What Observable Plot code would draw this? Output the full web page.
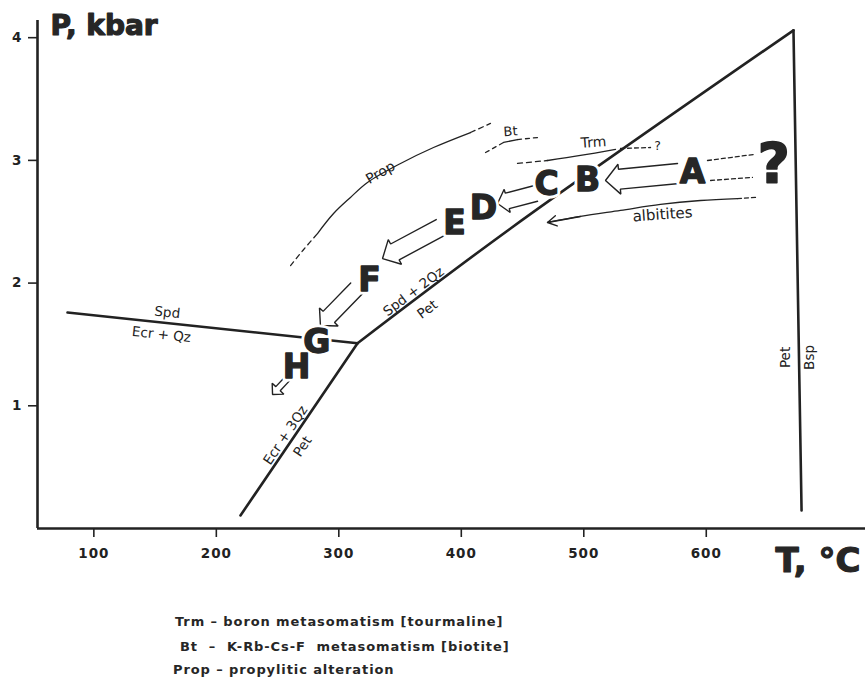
<!DOCTYPE html>
<html>
<head>
<meta charset="utf-8">
<script src="https://cdn.jsdelivr.net/npm/d3@7"></script>
<script src="https://cdn.jsdelivr.net/npm/@observablehq/plot@0.6"></script>
<style>
  html, body { margin: 0; padding: 0; background: #fff; }
  #wrap { position: relative; width: 865px; height: 681px; }
  #chart svg { display: block; }
  .note { position: absolute; font-family: "DejaVu Sans", sans-serif; font-weight: bold; font-size: 13px;
          letter-spacing: 0.9px; line-height: 16px; color: #262626; white-space: pre; }
</style>
</head>
<body>
<div id="wrap">
  <div id="chart"></div>
</div>
<script>
// ---------------- data ----------------
const tempTicks = [100, 200, 300, 400, 500, 600];
const pressTicks = [1, 2, 3, 4];

// phase boundaries [T °C, P kbar]
const lineSpdEcrQz  = [[78.5, 1.76], [315.3, 1.51]];
const lineEcr3QzPet = [[315.3, 1.51], [219.7, 0.106]];
const lineSpd2QzPet = [[315.3, 1.51], [440.2, 2.445], [671.2, 4.06]];
const linePetBsp    = [[671.2, 4.06], [677.8, 0.147]];

// alteration curves
const propDashLow  = [[260.6, 2.143], [271.0, 2.27], [282.6, 2.404]];
const propSolid    = [[282.6, 2.404], [295.7, 2.567], [309.5, 2.698], [323.4, 2.820], [350.4, 2.975], [377.3, 3.105], [407.5, 3.227]];
const propDashHigh = [[407.5, 3.227], [423.8, 3.301]];
const btDashLow    = [[419.8, 3.064], [434.5, 3.146]];
const btSolid      = [[434.5, 3.146], [445.9, 3.170]];
const btDashHigh   = [[445.9, 3.170], [463.0, 3.187]];
const trmDashLow   = [[445.9, 2.975], [470.4, 2.999]];
const trmSolid     = [[470.4, 2.999], [497.3, 3.040], [525.9, 3.089]];
const trmDashHigh  = [[530.0, 3.097], [554.5, 3.105]];
const albSolid     = [[470.4, 2.494], [497.3, 2.543], [530.0, 2.592], [562.6, 2.641], [595.3, 2.673], [625.5, 2.689]];
const albDash      = [[625.5, 2.689], [640.2, 2.698]];
const aToSourceUpper = [[601.0, 2.999], [638.6, 3.048]];
const aToSourceLower = [[603.5, 2.836], [637.7, 2.861]];

// stages
const stageLetters = ["A", "B", "C", "D", "E", "F", "G", "H"];
const stageT = [588.8, 503.0, 469.6, 418.0, 394.5, 325.0, 282.0, 265.5];
const stageP = [2.90, 2.84, 2.80, 2.61, 2.49, 2.02, 1.52, 1.31];
const sourceLabel = ["?"];
const sourceT = [655];
const sourceP = [2.97];

// hollow evolution arrows: tail -> tip
const arrowNames = ["AB", "CD", "EF", "FG", "H"];
const arrowTailT = [577.3, 460.6, 383.0, 314.4, 258.1];
const arrowTailP = [2.893, 2.730, 2.453, 1.956, 1.222];
const arrowTipT  = [517.7, 429.6, 335.7, 285.0, 245.9];
const arrowTipP  = [2.836, 2.649, 2.200, 1.654, 1.092];

// labels on boundaries
const boundaryLabels = ["Spd", "Ecr + Qz", "Spd + 2Qz", "Pet", "Ecr + 3Qz", "Pet", "Pet", "Bsp"];
const boundaryLabelT = [160.0, 155.2, 361.0, 372.4, 256.5, 270.4, 664.7, 684.3];
const boundaryLabelP = [1.76, 1.58, 1.93, 1.785, 0.76, 0.668, 1.394, 1.394];

const curveLabels = ["Prop", "Bt", "Trm", "?", "albitites"];
const curveLabelT = [334.0, 440.2, 508.0, 560.2, 564.3];
const curveLabelP = [2.90, 3.235, 3.146, 3.12, 2.559];

const notes = ["Trm – boron metasomatism [tourmaline]", "Bt  –  K-Rb-Cs-F  metasomatism [biotite]", "Prop – propylitic alteration"];

// ---------------- layout / styles ----------------
const W = 865, H = 600;
const xDomain = [54, 730], yDomain = [0, 4.14];
const mL = 37, mR = 0, mT = 20, mB = 72;
const kx = (W - mL - mR) / (xDomain[1] - xDomain[0]);
const ky = (H - mT - mB) / (yDomain[1] - yDomain[0]);
const ink = "#222";

const boundaryRotate = [6, 6, -37, -37, -56, -56, -90, -90];
const curveRotate = [-30, -4, -4, 0, -4];
const curveSize = [14, 13, 14, 12.5, 15];
// [shaft half-width, head half-width, head length] in px
const arrowShape = {AB: [10, 15, 14], CD: [8, 12, 10], EF: [9, 14, 14], FG: [8, 13, 12], H: [3, 8, 8]};

const pts = arr => arr.map(([T, P]) => ({T, P}));

function hollowArrow(i) {
  const name = arrowNames[i];
  const [w, hw, hl] = arrowShape[name];
  const ax = arrowTailT[i] * kx, ay = -arrowTailP[i] * ky;
  const bx = arrowTipT[i] * kx, by = -arrowTipP[i] * ky;
  const L = Math.hypot(bx - ax, by - ay);
  const ux = (bx - ax) / L, uy = (by - ay) / L, nx = -uy, ny = ux;
  const cx = bx - ux * hl, cy = by - uy * hl;
  const p = [[ax + nx * w, ay + ny * w], [cx + nx * w, cy + ny * w], [cx + nx * hw, cy + ny * hw], [bx, by],
             [cx - nx * hw, cy - ny * hw], [cx - nx * w, cy - ny * w], [ax - nx * w, ay - ny * w]];
  return p.map(([x, y]) => ({name, T: x / kx, P: -y / ky}));
}
const arrowOutlines = arrowNames.flatMap((_, i) => hollowArrow(i));

const stages = stageLetters.map((s, i) => ({s, T: stageT[i], P: stageP[i]}));
const sources = sourceLabel.map((s, i) => ({s, T: sourceT[i], P: sourceP[i]}));
const bLabels = boundaryLabels.map((s, i) => ({s, T: boundaryLabelT[i], P: boundaryLabelP[i], r: boundaryRotate[i]}));
const cLabels = curveLabels.map((s, i) => ({s, T: curveLabelT[i], P: curveLabelP[i], r: curveRotate[i], f: curveSize[i]}));

const thick = {x: "T", y: "P", stroke: ink, strokeWidth: 2.6, strokeLinecap: "round", strokeLinejoin: "round"};
const thin = {x: "T", y: "P", stroke: ink, strokeWidth: 1.3, curve: "catmull-rom"};
const dashed = {...thin, strokeDasharray: "5,4"};
const bigText = {x: "T", y: "P", text: "s", fontWeight: "bold", fontFamily: "DejaVu Sans"};

const plot = Plot.plot({
  width: W, height: H,
  marginLeft: mL, marginRight: mR, marginTop: mT, marginBottom: mB,
  style: {fontFamily: "DejaVu Sans, sans-serif", fontSize: "13px", fontWeight: "bold", color: ink, background: "#fff"},
  x: {domain: xDomain, ticks: tempTicks, tickSize: 9, tickPadding: 11, label: null, tickFormat: d => String(d)},
  y: {domain: yDomain, ticks: pressTicks, tickSize: 9, tickPadding: 6, label: null, tickFormat: d => String(d)},
  marks: [
    Plot.ruleY([0], {stroke: ink, strokeWidth: 2.6}),
    Plot.ruleX([xDomain[0]], {stroke: ink, strokeWidth: 2.6}),
    // phase boundaries
    Plot.line(pts(lineSpdEcrQz), thick),
    Plot.line(pts(lineEcr3QzPet), thick),
    Plot.line(pts(lineSpd2QzPet), {...thick, curve: "catmull-rom"}),
    Plot.line(pts(linePetBsp), thick),
    // alteration curves
    Plot.line(pts(propDashLow), dashed),
    Plot.line(pts(propSolid), thin),
    Plot.line(pts(propDashHigh), dashed),
    Plot.line(pts(btDashLow), {...dashed, strokeDasharray: "4,4"}),
    Plot.line(pts(btSolid), thin),
    Plot.line(pts(btDashHigh), {...dashed, strokeDasharray: "4,4"}),
    Plot.line(pts(trmDashLow), dashed),
    Plot.line(pts(trmSolid), thin),
    Plot.line(pts(trmDashHigh), {...dashed, strokeDasharray: "4,3"}),
    Plot.line(pts(albSolid), thin),
    Plot.line(pts(albDash), {...dashed, strokeDasharray: "4,3"}),
    Plot.arrow([{x1: albSolid[1][0], y1: albSolid[1][1], x2: albSolid[0][0], y2: albSolid[0][1]}],
      {x1: "x1", y1: "y1", x2: "x2", y2: "y2", stroke: ink, strokeWidth: 1.4, headLength: 11}),
    Plot.line(pts(aToSourceUpper), {...dashed, strokeDasharray: "4,3"}),
    Plot.line(pts(aToSourceLower), {...dashed, strokeDasharray: "4,3"}),
    // hollow arrows
    Plot.line(arrowOutlines, {x: "T", y: "P", z: "name", stroke: ink, strokeWidth: 1.4, strokeLinejoin: "miter"}),
    // labels
    Plot.text(bLabels, {x: "T", y: "P", text: "s", rotate: "r", fontSize: 13.5, fontWeight: "normal", fill: ink, ariaLabel: "small-label"}),
    Plot.text(cLabels, {x: "T", y: "P", text: "s", rotate: "r", fontSize: "f", fontWeight: "normal", fill: ink, ariaLabel: "small-label"}),
    // stage letters: white halo, then heavy ink
    Plot.text(stages, {...bigText, fontSize: 33, fill: "white", stroke: "white", strokeWidth: 7}),
    Plot.text(stages, {...bigText, fontSize: 33, fill: "#262626", stroke: "#262626", strokeWidth: 1.3}),
    Plot.text(sources, {...bigText, fontSize: 56, fill: "white", stroke: "white", strokeWidth: 7}),
    Plot.text(sources, {...bigText, fontSize: 56, fill: "#262626", stroke: "#262626", strokeWidth: 1.5}),
    // axis titles
    Plot.text(["P, kbar"], {frameAnchor: "top-left", textAnchor: "start", lineAnchor: "middle", dx: 13, dy: 6, fontSize: 28, fontWeight: "bold", fill: "#262626", stroke: "#262626", strokeWidth: 1.2, ariaLabel: "p-title"}),
    Plot.text(["T, °C"], {frameAnchor: "bottom-right", textAnchor: "end", lineAnchor: "middle", dx: -5, dy: 33, fontSize: 34, fontWeight: "bold", fill: "#262626", stroke: "#262626", strokeWidth: 1.2, ariaLabel: "t-title"})
  ]
});

const sel = d3.select(plot);
sel.selectAll('g[aria-label="small-label"] text').style("letter-spacing", "1.3px").attr("stroke", ink).attr("stroke-width", 0.45);
sel.selectAll('g[aria-label="t-title"] text').style("letter-spacing", "-1.5px");
sel.selectAll('g[aria-label="p-title"] text').style("letter-spacing", "1.8px");
// axis tick labels: enlarge (any text whose content is one of the tick values)
const tickStrings = new Set([...tempTicks, ...pressTicks].map(String));
sel.selectAll("g").filter(function() { const a = this.getAttribute("aria-label") || ""; return a.includes("axis"); })
  .selectAll("text").filter(function() { return tickStrings.has(this.textContent.trim()); })
  .style("font-size", "13.5px").style("letter-spacing", "1px").style("font-weight", "bold");
sel.selectAll("g").filter(function() { const a = this.getAttribute("aria-label") || ""; return a.includes("axis") && a.includes("tick") && !a.includes("label"); })
  .attr("stroke-width", 1.6);

document.getElementById("chart").appendChild(plot);

const noteLeft = [175, 180, 173];
const noteCenter = [622, 647, 670];
const wrap = document.getElementById("wrap");
notes.forEach((t, i) => {
  const d = document.createElement("div");
  d.className = "note";
  d.textContent = t;
  d.style.left = noteLeft[i] + "px";
  d.style.top = (noteCenter[i] - 8) + "px";
  wrap.appendChild(d);
});
</script>
</body>
</html>
